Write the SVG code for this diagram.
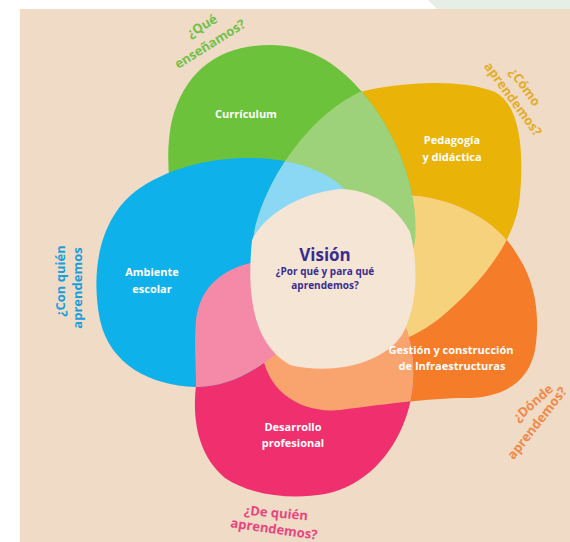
<svg xmlns="http://www.w3.org/2000/svg" xmlns:xlink="http://www.w3.org/1999/xlink" width="570" height="542" viewBox="0 0 570 542">
<style>
.lbl{font-family:"Open Sans","Noto Sans",sans-serif;font-weight:700;font-size:11px;fill:#ffffff;text-anchor:middle}
.q{font-family:"Open Sans","Noto Sans",sans-serif;font-weight:700;font-size:13px;text-anchor:middle}
.vis{font-family:"Open Sans","Noto Sans",sans-serif;font-weight:700;fill:#3b2d8f;text-anchor:middle}
</style>
<defs>
<path id="pGreen" d="M362,92 C335,60 305,45 270,45 C220,45 185,70 172,120 C162,165 172,230 200,270 C230,310 280,330 320,320 C370,310 410,280 415,240 C420,190 395,130 362,92 Z"/>
<path id="pYellow" d="M360,92 C400,82 460,78 495,92 C520,105 524,150 520,195 C517,240 480,285 440,318 C410,342 360,360 320,350 C280,340 250,300 252,250 C254,200 300,120 360,92 Z"/>
<path id="pOrange" d="M518,256 C537,285 540,320 535,350 C528,385 500,398 465,398 C430,398 380,405 340,410 C300,414 265,390 262,350 C260,300 300,230 350,205 C390,188 440,193 478,216 C498,228 510,242 518,256 Z"/>
<path id="pPink" d="M196,385 C192,420 198,455 225,478 C250,495 290,500 325,494 C365,486 392,455 405,420 C420,380 416,330 390,300 C360,265 300,255 255,262 C225,268 200,285 196,320 C194,345 196,365 196,385 Z"/>
<path id="pBlue" d="M195,387 C150,385 110,365 100,320 C90,270 100,215 140,188 C175,165 215,158 250,158 C290,158 330,170 350,195 C370,225 345,280 310,320 C280,355 240,388 195,387 Z"/>
<clipPath id="cGreen"><use xlink:href="#pGreen"/></clipPath>
<clipPath id="cYellow"><use xlink:href="#pYellow"/></clipPath>
<clipPath id="cOrange"><use xlink:href="#pOrange"/></clipPath>
<clipPath id="cPink"><use xlink:href="#pPink"/></clipPath>
<clipPath id="cBlue"><use xlink:href="#pBlue"/></clipPath>
</defs>
<rect x="0" y="0" width="570" height="542" fill="#ffffff"/>
<rect x="20" y="9" width="550" height="533" fill="#efdbc6"/>
<polygon points="428,0 570,0 570,9 437,9" fill="#e6efe6"/>

<g id="petals">
<g id="petal-pedagogia"><use xlink:href="#pYellow" fill="#e9b308"/></g>
<g id="petal-gestion"><use xlink:href="#pOrange" fill="#f57c28"/></g>
<g id="petal-desarrollo"><use xlink:href="#pPink" fill="#f0306e"/></g>
<g id="petal-curriculum"><use xlink:href="#pGreen" fill="#6cc23a"/></g>
<g id="petal-ambiente"><use xlink:href="#pBlue" fill="#0fb1ea"/></g>
</g>
<g id="overlaps">
<g clip-path="url(#cOrange)"><use xlink:href="#pYellow" fill="#f6d27c"/></g>
<g clip-path="url(#cPink)"><use xlink:href="#pOrange" fill="#f9a46e"/></g>
<g clip-path="url(#cBlue)"><use xlink:href="#pPink" fill="#f58aa8"/></g>
<g clip-path="url(#cYellow)"><use xlink:href="#pGreen" fill="#9ed27a"/></g>
<g clip-path="url(#cYellow)"><use xlink:href="#pBlue" fill="#8ad8f4" clip-path="url(#cGreen)"/></g>
</g>
<g id="vision">
<path d="M252,240 C265,214 300,193 340,189 C372,190 396,206 410,232 C420,270 416,310 402,335 C382,365 330,375 290,365 C255,345 246,300 252,240 Z" fill="#f5e5d5"/>
<text class="vis" x="325" y="261" font-size="17">Visión</text>
<text class="vis" x="325" y="275" font-size="10">¿Por qué y para qué</text>
<text class="vis" x="325" y="289" font-size="10">aprendemos?</text>
</g>

<g id="labels">
<text class="lbl" x="246" y="118">Currículum</text>
<text class="lbl" x="452" y="144">Pedagogía</text>
<text class="lbl" x="452" y="161">y didáctica</text>
<text class="lbl" x="152" y="276">Ambiente</text>
<text class="lbl" x="152" y="293">escolar</text>
<text class="lbl" x="451" y="354">Gestión y construcción</text>
<text class="lbl" x="452" y="370">de Infraestructuras</text>
<text class="lbl" x="293" y="431">Desarrollo</text>
<text class="lbl" x="293" y="447">profesional</text>
</g>

<g id="questions">
<g transform="translate(202,26) rotate(-31)"><text class="q" y="4.5" fill="#74c04a">¿Qué</text></g>
<g transform="translate(210,44) rotate(-32)"><text class="q" y="4.5" fill="#74c04a">enseñamos?</text></g>
<g transform="translate(525,87) rotate(54)"><text class="q" y="4.5" fill="#e3ad2a">¿Cómo</text></g>
<g transform="translate(513,99) rotate(54)"><text class="q" y="4.5" fill="#e3ad2a">aprendemos?</text></g>
<g transform="translate(60,281) rotate(-90)"><text class="q" y="4.5" fill="#1a9fdc">¿Con quién</text></g>
<g transform="translate(77,288) rotate(-90)"><text class="q" y="4.5" fill="#1a9fdc">aprendemos</text></g>
<g transform="translate(533,403) rotate(-42)"><text class="q" y="4.5" fill="#f08a4a" font-size="12">¿Dónde</text></g>
<g transform="translate(537,423) rotate(-52)"><text class="q" y="4.5" fill="#f08a4a" font-size="12">aprendemos?</text></g>
<g transform="translate(276,513) rotate(5)"><text class="q" y="4.5" fill="#e8457e">¿De quién</text></g>
<g transform="translate(274,529) rotate(8)"><text class="q" y="4.5" fill="#e8457e">aprendemos?</text></g>
</g>
</svg>
